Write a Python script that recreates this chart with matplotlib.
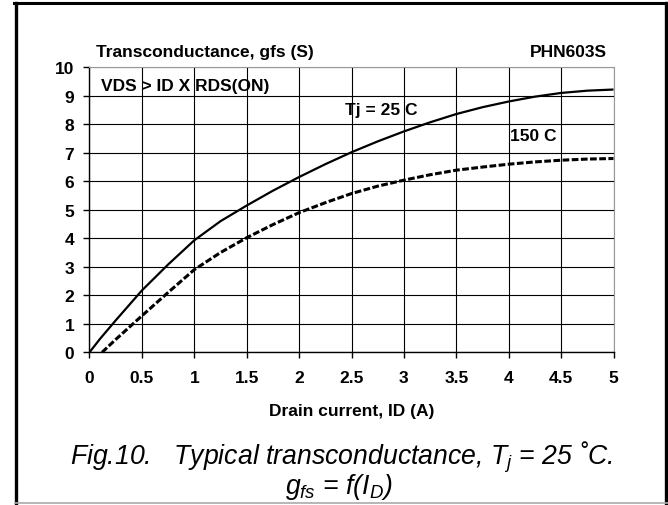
import matplotlib
matplotlib.use('Agg')
import matplotlib.pyplot as plt
from matplotlib.lines import Line2D

# values
id_25 = [0, 0.1, 0.25, 0.5, 0.75, 1.0, 1.25, 1.5, 1.75, 2.0, 2.25, 2.5, 2.75,
         3.0, 3.25, 3.5, 3.75, 4.0, 4.25, 4.5, 4.75, 5.0]
gfs_25 = [0, 0.47, 1.12, 2.17, 3.08, 3.93, 4.6, 5.15, 5.67, 6.15, 6.6, 7.02, 7.4,
          7.75, 8.07, 8.36, 8.6, 8.8, 8.97, 9.1, 9.18, 9.22]

id_150 = [0.12, 0.25, 0.5, 0.75, 1.0, 1.25, 1.5, 1.75, 2.0, 2.25, 2.5, 2.75,
          3.0, 3.25, 3.5, 3.75, 4.0, 4.25, 4.5, 4.75, 5.0]
gfs_150 = [0, 0.45, 1.28, 2.1, 2.9, 3.5, 4.02, 4.48, 4.9, 5.25, 5.57, 5.83,
           6.04, 6.23, 6.39, 6.5, 6.6, 6.68, 6.74, 6.78, 6.8]

x_ticks = [0, 0.5, 1, 1.5, 2, 2.5, 3, 3.5, 4, 4.5, 5]
x_labels = ['0', '0.5', '1', '1.5', '2', '2.5', '3', '3.5', '4', '4.5', '5']
y_ticks = list(range(0, 11))

plt.rcParams['font.family'] = ['Liberation Sans', 'DejaVu Sans']
plt.rcParams['mathtext.fontset'] = 'custom'
plt.rcParams['mathtext.rm'] = 'Liberation Sans:italic'
plt.rcParams['mathtext.it'] = 'Liberation Sans:italic'

FS = 12.5

W, H = 668, 506
fig = plt.figure(figsize=(W / 100, H / 100), dpi=100)
ax = fig.add_axes([89.5 / W, 1 - 353.3 / H, 524 / W, 285 / H])

ax.plot(id_25, gfs_25, color='black', lw=1.6, solid_capstyle='butt')
ax.plot(id_150, gfs_150, color='black', lw=2.2, linestyle=(0, (2.2, 0.8)))

ax.set_xlim(0, 5)
ax.set_ylim(0, 10)
ax.set_xticks(x_ticks)
ax.set_xticklabels(x_labels)
ax.set_yticks(y_ticks)
ax.grid(True, color='black', lw=0.8)
ax.set_axisbelow(True)
for s in ['top', 'right']:
    ax.spines[s].set_color('#999999')
for s in ['left', 'bottom']:
    ax.spines[s].set_linewidth(1.0)
ax.tick_params(direction='out', length=4, width=1.0, labelsize=FS)
ax.tick_params(axis='x', pad=9)
ax.tick_params(axis='y', pad=7)
for lab in ax.get_xticklabels() + ax.get_yticklabels():
    lab.set_fontweight('bold')

ax.set_xlabel('Drain current, ID (A)', fontsize=FS, fontweight='bold', labelpad=13)

ax.text(0.06, 10.57, 'Transconductance, gfs (S)', fontsize=FS, fontweight='bold',
        ha='left', va='center', clip_on=False)
ax.text(4.94, 10.57, 'PHN603S', fontsize=FS, fontweight='bold',
        ha='right', va='center', clip_on=False)
ax.text(0.11, 9.37, 'VDS > ID X RDS(ON)', fontsize=FS, fontweight='bold',
        ha='left', va='center')
ax.text(2.44, 8.53, 'Tj = 25 C', fontsize=FS, fontweight='bold',
        ha='left', va='center')
ax.text(4.01, 7.6, '150 C', fontsize=FS, fontweight='bold',
        ha='left', va='center')

# caption under the chart
fig.text(342 / W, 1 - 457 / H,
         'Fig.10.   Typical transconductance, $T_j$ = 25 \u02daC.',
         fontsize=19.2, style='italic', ha='center', va='center')
fig.text(339 / W, 1 - 487 / H, '$g_{fs}$ = f($I_D$)',
         fontsize=19.2, style='italic', ha='center', va='center')

# page frame
fig.add_artist(Line2D([15.5 / W, 15.5 / W], [1 - 4 / H, 0], color='black', lw=2.4))
fig.add_artist(Line2D([14 / W, 668 / W], [1 - 4 / H, 1 - 4 / H], color='black', lw=2.2))
fig.add_artist(Line2D([666 / W, 666 / W], [1 - 4 / H, 0], color='black', lw=2.4))
fig.add_artist(Line2D([15 / W, 668 / W], [1 - 503.5 / H, 1 - 503.5 / H], color='#aaaaaa', lw=1.2))

fig.savefig('out.png', dpi=100)
